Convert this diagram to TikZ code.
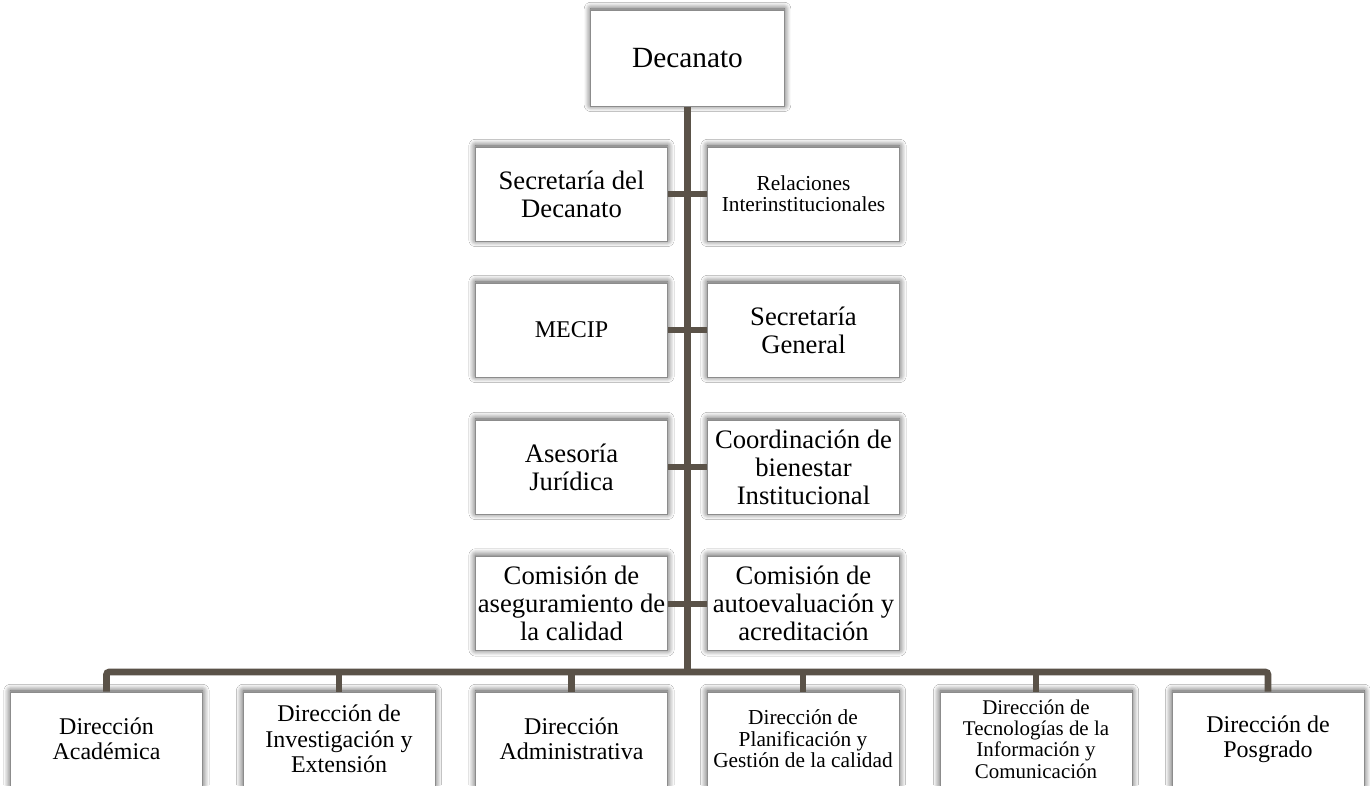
\documentclass[tikz,border=0pt]{standalone}
\usepackage{fontspec}
\setmainfont{Liberation Serif}
\usetikzlibrary{shadows.blur}
\definecolor{linec}{RGB}{90,82,72}
\definecolor{boxgray}{RGB}{140,140,140}
\tikzset{
  orgbox/.style={draw=boxgray, line width=0.75pt, fill=white, inner sep=0pt,
    minimum width=144pt, minimum height=70.5pt, align=center,
    font=\fontsize{20pt}{21pt}\selectfont,
    blur shadow={shadow xshift=0pt, shadow yshift=0.8pt, shadow blur radius=5pt, shadow blur steps=10, shadow opacity=75}},
  conn/.style={draw=linec, line width=5pt},
  fsmall/.style={font=\fontsize{16pt}{16pt}\selectfont},
  fmid/.style={font=\fontsize{18pt}{19pt}\selectfont},
  ftiny/.style={font=\fontsize{15.7pt}{16pt}\selectfont},
}
\begin{document}
\begin{tikzpicture}[x=0.75pt,y=-0.75pt]
\useasboundingbox[fill=white] (0,0) rectangle (1370,785);
% top
\node[orgbox, minimum width=145pt, minimum height=72pt, font=\fontsize{22pt}{23pt}\selectfont] (dec) at (687.5,58) {Decanato};
% paired rows
\node[orgbox] (sec) at (571.5,194) {Secretaría del\\Decanato};
\node[orgbox, fsmall] (rel) at (803.5,194) {Relaciones\\Interinstitucionales};
\node[orgbox, fmid] (mecip) at (571.5,330) {MECIP};
\node[orgbox] (sg) at (803.5,330) {Secretaría\\General};
\node[orgbox] (ase) at (571.5,467) {Asesoría\\Jurídica};
\node[orgbox] (coord) at (803.5,467) {Coordinación de\\bienestar\\Institucional};
\node[orgbox] (cas) at (571.5,603.5) {Comisión de\\aseguramiento de\\la calidad};
\node[orgbox] (cae) at (803.5,603.5) {Comisión de\\autoevaluación y\\acreditación};
% bottom row
\node[orgbox, fmid] (d1) at (106.5,739) {Dirección\\Académica};
\node[orgbox, fmid] (d2) at (339,739) {Dirección de\\Investigación y\\Extensión};
\node[orgbox, fmid] (d3) at (571.5,739) {Dirección\\Administrativa};
\node[orgbox, fsmall] (d4) at (803,739) {Dirección de\\Planificación y\\Gestión de la calidad};
\node[orgbox, ftiny] (d5) at (1036,739) {Dirección de\\Tecnologías de la\\Información y\\Comunicación};
\node[orgbox, fmid] (d6) at (1268,739) {Dirección de\\Posgrado};
% connectors
\coordinate (bus) at (687.5,672);
\draw[conn, line width=5.5pt] (dec.south) -- (bus);
\draw[conn, line width=4.5pt] (sec.east) -- (rel.west);
\draw[conn, line width=4.5pt] (mecip.east) -- (sg.west);
\draw[conn, line width=4.5pt] (ase.east) -- (coord.west);
\draw[conn, line width=4.5pt] (cas.east) -- (cae.west);
\draw[conn, rounded corners=2pt] (d1.north) |- (bus) -| (d6.north);
\draw[conn] (d2.north) -- (d2.north |- bus);
\draw[conn] (d3.north) -- (d3.north |- bus);
\draw[conn] (d4.north) -- (d4.north |- bus);
\draw[conn] (d5.north) -- (d5.north |- bus);
\end{tikzpicture}
\end{document}
